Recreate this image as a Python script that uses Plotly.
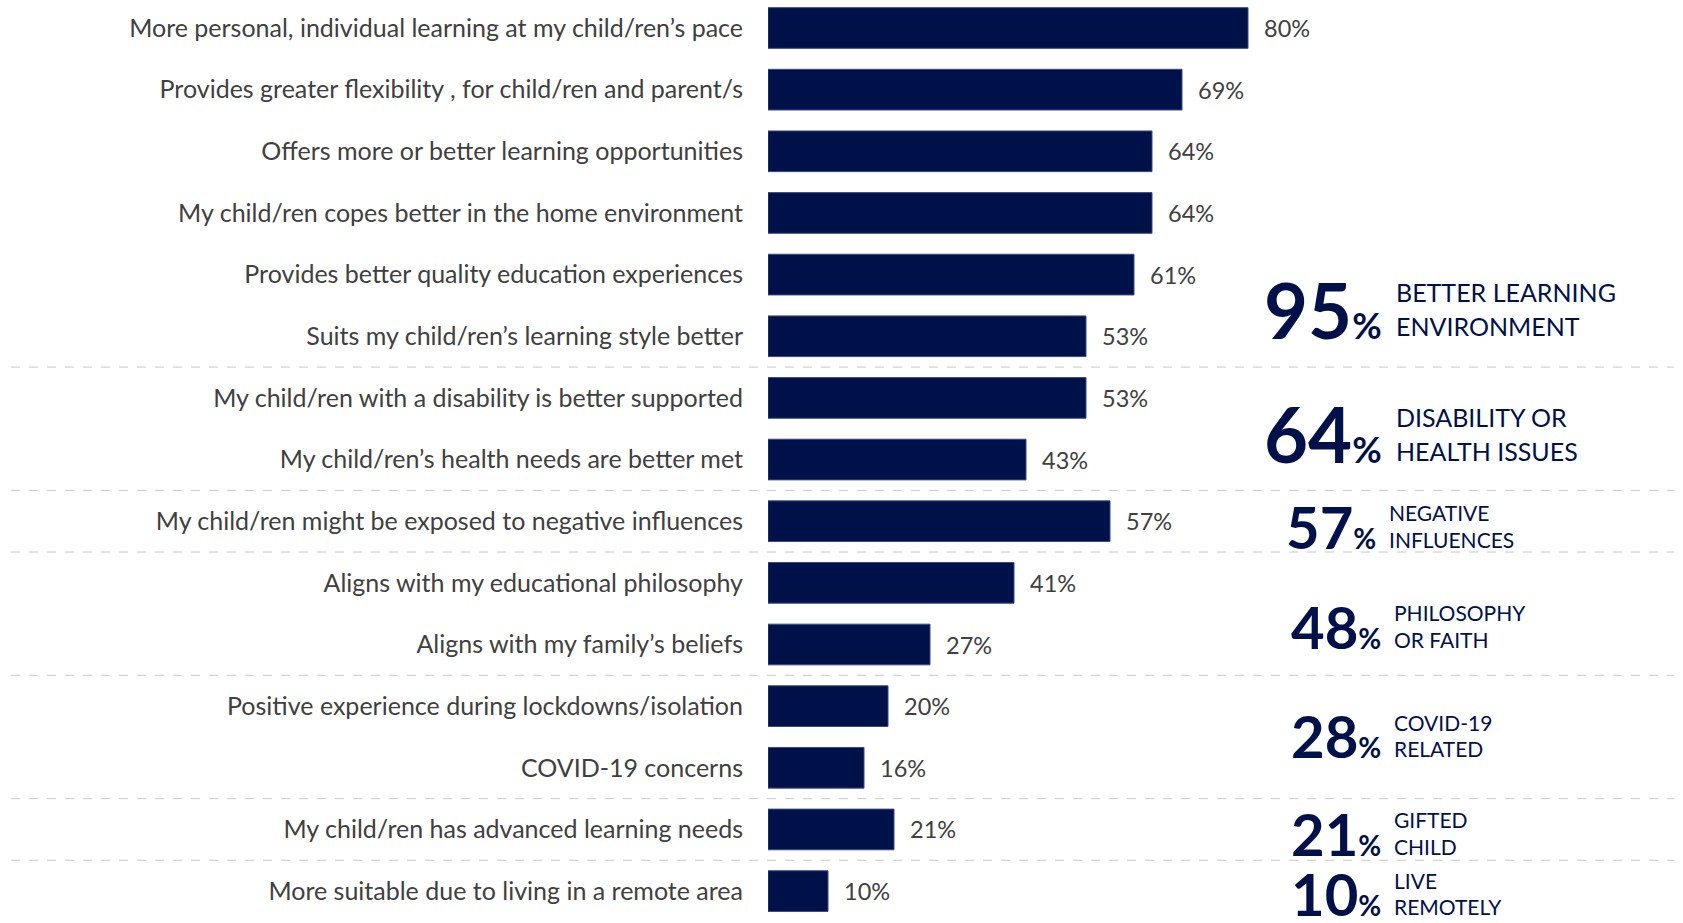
import plotly.graph_objects as go

# Reasons for home education, share of parents (%)
categories = [
    "More personal, individual learning at my child/ren’s pace",
    "Provides greater flexibility , for child/ren and parent/s",
    "Offers more or better learning opportunities",
    "My child/ren copes better in the home environment",
    "Provides better quality education experiences",
    "Suits my child/ren’s learning style better",
    "My child/ren with a disability is better supported",
    "My child/ren’s health needs are better met",
    "My child/ren might be exposed to negative influences",
    "Aligns with my educational philosophy",
    "Aligns with my family’s beliefs",
    "Positive experience during lockdowns/isolation",
    "COVID-19 concerns",
    "My child/ren has advanced learning needs",
    "More suitable due to living in a remote area",
]
values = [80, 69, 64, 64, 61, 53, 53, 43, 57, 41, 27, 20, 16, 21, 10]

# Grouped totals shown on the right
group_totals = [95, 64, 57, 48, 28, 21, 10]
group_names = [
    ["BETTER LEARNING", "ENVIRONMENT"],
    ["DISABILITY OR", "HEALTH ISSUES"],
    ["NEGATIVE", "INFLUENCES"],
    ["PHILOSOPHY", "OR FAITH"],
    ["COVID-19", "RELATED"],
    ["GIFTED", "CHILD"],
    ["LIVE", "REMOTELY"],
]
# first and last category index of each group
group_spans = [(0, 5), (6, 7), (8, 8), (9, 10), (11, 12), (13, 13), (14, 14)]
# vertical placement of each group's callout (category units)
group_y = [4.56, 6.58, 8.08, 9.7, 11.48, 13.06, 14.04]

NAVY = "#00114a"
GREY_TEXT = "#404040"
FONT = "Lato"

W, H = 1683, 923
ML = 768
PX_PER_PCT = 6.0
plot_w = W - ML
x_max = plot_w / PX_PER_PCT

# category axis geometry: first bar centre at 28px, pitch 61.65px
pitch = 61.65
c0 = 28.0
y_top = -c0 / pitch
y_bot = (H - c0) / pitch

ypos = list(range(len(categories)))

fig = go.Figure()
fig.add_trace(go.Bar(
    x=values, y=ypos, orientation="h",
    marker=dict(color=NAVY, line=dict(color="#3b4a7d", width=1)),
    width=0.66, hoverinfo="skip",
))

annotations = []
for v, yi in zip(values, ypos):
    annotations.append(dict(
        x=v, y=yi, xref="x", yref="y", text=f"{v}%", showarrow=False,
        xanchor="left", yanchor="middle", xshift=14,
        font=dict(family=FONT, size=23.5, color=GREY_TEXT),
    ))

# big/small styling per group
big_sizes = [76, 76, 58, 58, 58, 58, 58]
pct_sizes = [36, 36, 28, 28, 28, 28, 28]
name_sizes = [25, 25, 21, 21, 21, 21, 21]
line_gap = [34, 34, 26.5, 26.5, 26.5, 26.5, 26.5]
num_right_px = [1384, 1384, 1378, 1383, 1383, 1383, 1383]
name_left_px = [1394, 1394, 1387, 1392, 1392, 1392, 1392]

for k, (tot, lines, yc) in enumerate(zip(group_totals, group_names, group_y)):
    annotations.append(dict(
        x=(num_right_px[k] - ML) / plot_w, y=yc, xref="paper", yref="y",
        text=f"<b>{tot}<span style='font-size:{pct_sizes[k]}px'>%</span></b>",
        showarrow=False, xanchor="right", yanchor="middle",
        font=dict(family=FONT, size=big_sizes[k], color=NAVY),
    ))
    for j, line in enumerate(lines):
        annotations.append(dict(
            x=(name_left_px[k] - ML) / plot_w, y=yc, xref="paper", yref="y",
            text=line, showarrow=False, xanchor="left", yanchor="middle",
            yshift=(0.5 - j) * line_gap[k],
            font=dict(family=FONT, size=name_sizes[k], color=NAVY),
        ))

# dashed separators between groups, spanning the full width
shapes = []
for (a, b) in group_spans[:-1]:
    ys = b + 0.5
    shapes.append(dict(
        type="line", xref="paper", yref="y",
        x0=(11 - ML) / plot_w, x1=(1674 - ML) / plot_w, y0=ys, y1=ys,
        line=dict(color="#c8c8c8", width=1, dash="dash"),
    ))

fig.update_layout(
    width=W, height=H,
    margin=dict(l=ML, r=0, t=0, b=0),
    plot_bgcolor="white", paper_bgcolor="white",
    showlegend=False,
    xaxis=dict(range=[0, x_max], visible=False, fixedrange=True),
    yaxis=dict(
        range=[y_bot, y_top], tickmode="array", tickvals=ypos, ticktext=categories,
        showgrid=False, zeroline=False, showline=False, ticks="",
        ticklabelstandoff=24,
        tickfont=dict(family=FONT, size=25, color=GREY_TEXT),
    ),
    annotations=annotations,
    shapes=shapes,
)

fig.write_html("out.html")
